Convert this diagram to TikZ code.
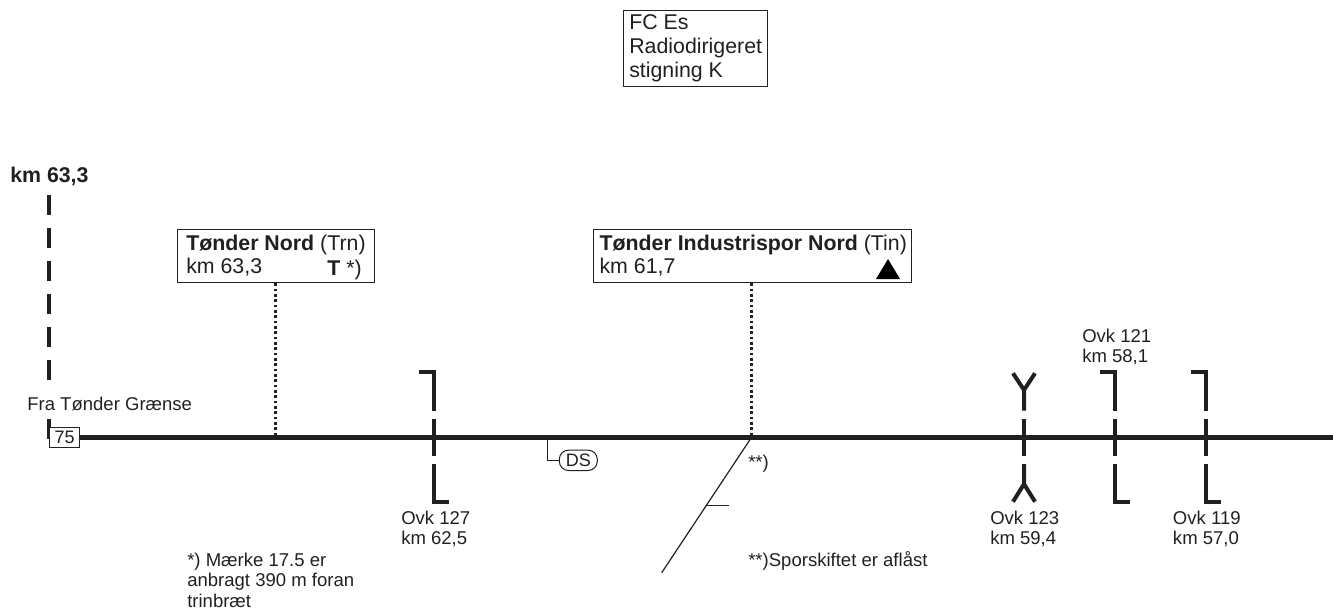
\documentclass[tikz,border=0pt]{standalone}
\usepackage{fontspec}
\setmainfont{Liberation Sans}
\definecolor{mydark}{HTML}{231F20}
\tikzset{
  x=.75pt,y=-.75pt,
  txt/.style={inner sep=0pt,align=left,text=mydark,font=\fontsize{13.9}{15.4}\selectfont},
  lbl/.style={txt,anchor=north west},
  biglbl/.style={lbl,font=\fontsize{16}{17.8}\selectfont},
  stationbox/.style={draw=mydark,line width=.9pt,fill=white,minimum height=39.75pt,inner sep=0pt,anchor=north west},
  track/.style={mydark,line width=3.75pt},
  signal/.style={mydark,line width=3pt},
  dots/.style={mydark,line width=2pt,dash pattern=on 2pt off 2pt},
  thinline/.style={mydark,line width=.9pt}
}
\begin{document}
\begin{tikzpicture}
      \useasboundingbox (0,0) rectangle (1333,610);
      % header
      \node[draw=mydark,line width=.75pt,minimum width=108pt,minimum height=57pt,anchor=north west] (fc) at (623,10) {};
      \node[biglbl] (fctext) at (629,14.5) {FC Es\\Radiodirigeret\\stigning K};
      \node[biglbl,font=\fontsize{16}{17.8}\selectfont\bfseries] (km) at (10,167) {km 63,3};
      % boundary line
      \coordinate (top) at (48.7,195);
      \coordinate (mid) at (48.7,392);
      \coordinate (low) at (48.7,419);
      \coordinate (bot) at (48.7,439);
      \draw[signal,dash pattern=on 15pt off 9.75pt] (top) -- (mid);
      \draw[signal] (low) -- (bot);
      % stations
      \node[stationbox,minimum width=147.75pt] (trn) at (177,229) {};
      \node[stationbox,minimum width=238.5pt] (tin) at (592.7,229) {};
      \node[biglbl] at (186,234.5) {\textbf{Tønder Nord} (Trn)\\km 63,3};
      \node[biglbl,anchor=north east] at (362,259.5) {\textbf{T} *)};
      \node[biglbl] at (599.3,234.5) {\textbf{Tønder Industrispor Nord} (Tin)\\km 61,7};
      \fill[black] (876,279) -- (888,259) -- (900,279) -- cycle;
      % main line
      \coordinate (e) at (1333,437.3);
      \coordinate (j) at (751.5,437.3);
      \coordinate (t) at (275.7,437.3);
      \draw[dots] (trn.south -| t) -- (t);
      \draw[dots] (tin.south -| j) -- (j);
      \node[draw=mydark,line width=.75pt,fill=white,minimum width=23pt,minimum height=15pt,inner sep=0pt,anchor=west,font=\fontsize{13.5}{15}\selectfont,text=mydark] (start) at (48.7,437.3) {75};
      \draw[track] (start.east) -- (e);
      % crossings
      \foreach \x in {434,1115,1205.7}{
        \draw[signal] (\x-15,372.3) -- (\x,372.3) -- (\x,410.5);
        \draw[signal] (\x,418.5) -- (\x,456);
        \draw[signal] (\x,464) -- (\x,501.7) -- (\x+15,501.7);
      }
      \draw[signal] (1013,373.3) -- (1024,390) -- (1035,373.3) (1024,390) -- (1024,410.5);
      \draw[signal] (1024,418.5) -- (1024,456);
      \draw[signal] (1024,464) -- (1024,484) (1013,501.7) -- (1024,484) -- (1035,501.7);
      \node[lbl] at (401,510.5) {Ovk 127\\km 62,5};
      \node[lbl] at (990,510.5) {Ovk 123\\km 59,4};
      \node[lbl] at (1082,328.5) {Ovk 121\\km 58,1};
      \node[lbl] at (1172.7,510.5) {Ovk 119\\km 57,0};
      \node[lbl] (from) at (27,396.5) {Fra Tønder Grænse};
      % DS
      \node[draw=mydark,line width=.75pt,rounded corners=7pt,minimum width=28.5pt,minimum height=15.3pt,inner sep=0pt,font=\fontsize{13.5}{15}\selectfont,text=mydark] (ds) at (578.3,460.3) {DS};
      \coordinate (dsa) at (547.7,437.3);
      \draw[thinline] (dsa) |- (ds);
      % branch
      \coordinate (b) at (661.7,572.7);
      \draw[thinline] (j) -- (b);
      \draw[thinline] (706.7,505.3) -- (729,505.3);
      \node[lbl] at (748,455) {**)};
      % notes
      \node[lbl] at (748,551) {**)Sporskiftet er aflåst};
      \node[lbl] at (187,552.5) {*) Mærke 17.5 er\\anbragt 390 m foran\\trinbræt};
    \end{tikzpicture}
\end{document}
